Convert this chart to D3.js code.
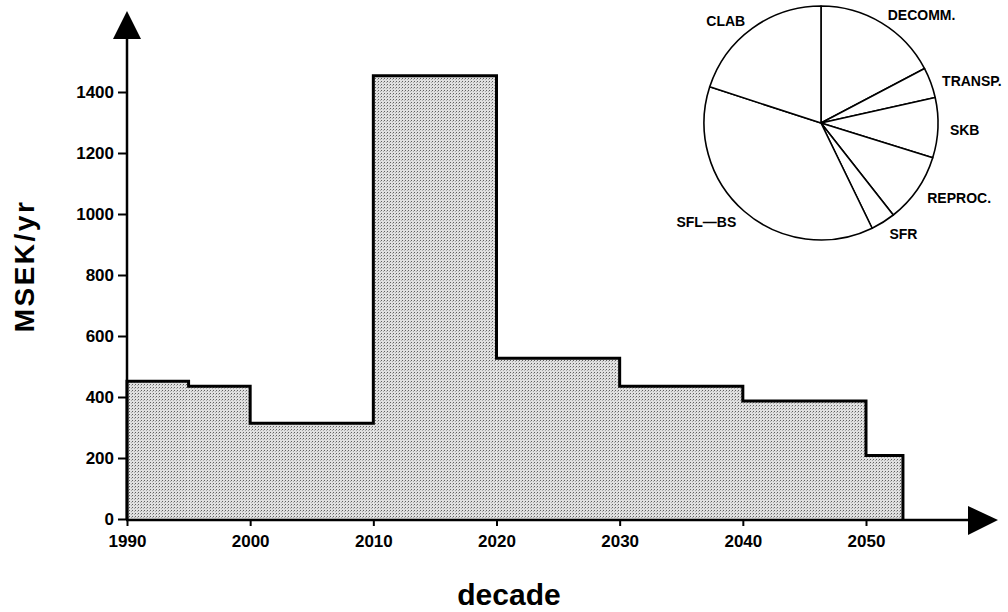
<!DOCTYPE html>
<html>
<head>
<meta charset="utf-8">
<script src="https://cdn.jsdelivr.net/npm/d3@7"></script>
<style>
  body { margin: 0; background: #fff; }
  text { font-family: "Liberation Sans", Arial, sans-serif; font-weight: bold; fill: #000; }
</style>
</head>
<body>
<script>
// cost per period, MSEK/yr
const periodStart = [1990, 1995, 2000, 2010, 2020, 2030, 2040, 2050];
const periodEnd   = [1995, 2000, 2010, 2020, 2030, 2040, 2050, 2053];
const cost        = [452, 435, 314, 1453, 527, 435, 387, 208];

const yTicks = [0, 200, 400, 600, 800, 1000, 1200, 1400];
const xTicks = [1990, 2000, 2010, 2020, 2030, 2040, 2050];

// pie: share of total, clockwise from the top
const pieLabels = ["DECOMM.", "TRANSP.", "SKB", "REPROC.", "SFR", "SFL\u2014BS", "CLAB"];
const pieShares = [17.3, 4.2, 8.3, 9.6, 3.4, 37.2, 20.0];

const width = 1008;
const height = 612;
const svg = d3.select('body').append('svg').attr('width', width).attr('height', height);

const x = d3.scaleLinear().domain([1990, 2050]).range([127, 866]);
const y = d3.scaleLinear().domain([0, 1400]).range([519, 92]);

// stipple fill
const defs = svg.append('defs');
const pat = defs.append('pattern').attr('id', 'stipple')
  .attr('width', 3).attr('height', 3).attr('patternUnits', 'userSpaceOnUse');
pat.append('rect').attr('width', 3).attr('height', 3).attr('fill', '#e0e0e0');
pat.append('rect').attr('width', 1).attr('height', 1).attr('fill', '#5f5f5f');
pat.append('rect').attr('x', 2).attr('y', 1).attr('width', 1).attr('height', 1).attr('fill', '#a8a8a8');

const steps = periodStart.map((s, i) => ({ s, e: periodEnd[i], v: cost[i] }));

// area under the steps
svg.append('g').selectAll('rect').data(steps).enter().append('rect')
  .attr('x', d => x(d.s))
  .attr('y', d => y(d.v))
  .attr('width', d => x(d.e) - x(d.s))
  .attr('height', d => y(0) - y(d.v))
  .attr('fill', 'url(#stipple)');

// outline of the steps
const pts = [[periodStart[0], 0]];
steps.forEach(d => { pts.push([d.s, d.v]); pts.push([d.e, d.v]); });
pts.push([periodEnd[periodEnd.length - 1], 0]);
svg.append('path')
  .attr('d', d3.line().x(d => x(d[0])).y(d => y(d[1]))(pts))
  .attr('fill', 'none').attr('stroke', '#000').attr('stroke-width', 3)
  .attr('stroke-linejoin', 'miter');

// axes
const x0 = x(1990), y0 = y(0);
svg.append('line').attr('x1', x0).attr('y1', y0 + 1).attr('x2', x0).attr('y2', 36)
  .attr('stroke', '#000').attr('stroke-width', 2.5);
svg.append('path').attr('d', `M${x0 - 14},39 L${x0 + 14},39 L${x0},11 Z`).attr('fill', '#000');

svg.append('line').attr('x1', x0 - 1).attr('y1', y0 + 1).attr('x2', 970).attr('y2', y0 + 1)
  .attr('stroke', '#000').attr('stroke-width', 2.5);
svg.append('path').attr('d', `M968,${y0 - 13} L968,${y0 + 16} L998,${y0 + 1} Z`).attr('fill', '#000');

const yAxis = svg.append('g').attr('transform', `translate(${x0},0)`)
  .call(d3.axisLeft(y).tickValues(yTicks).tickSize(9).tickPadding(4).tickFormat(d3.format('d')));
yAxis.select('.domain').remove();
yAxis.selectAll('line').attr('stroke-width', 2);
yAxis.selectAll('text').attr('font-size', 17);

const xAxis = svg.append('g').attr('transform', `translate(0,${y0 + 1})`)
  .call(d3.axisBottom(x).tickValues(xTicks).tickSize(6).tickPadding(9).tickFormat(d3.format('d')));
xAxis.select('.domain').remove();
xAxis.selectAll('line').attr('stroke-width', 2);
xAxis.selectAll('text').attr('font-size', 17);

svg.append('text').attr('transform', 'translate(34,266) rotate(-90)')
  .attr('text-anchor', 'middle').attr('font-size', 28).attr('letter-spacing', 2.5)
  .text('MSEK/yr');
svg.append('text').attr('x', 509).attr('y', 605)
  .attr('text-anchor', 'middle').attr('font-size', 30)
  .text('decade');

// pie inset
const cx = 821, cy = 123, r = 117;
const pieG = svg.append('g').attr('transform', `translate(${cx},${cy})`);
const arcs = d3.pie().sort(null)(pieShares);
const arc = d3.arc().innerRadius(0).outerRadius(r);
pieG.selectAll('path').data(arcs).enter().append('path')
  .attr('d', arc).attr('fill', '#fff').attr('stroke', '#000').attr('stroke-width', 1.6)
  .attr('stroke-linejoin', 'round');

const labelArc = d3.arc().innerRadius(r + 12).outerRadius(r + 12);
pieG.selectAll('text').data(arcs).enter().append('text')
  .attr('transform', d => `translate(${labelArc.centroid(d)})`)
  .attr('dy', '0.5em')
  .attr('text-anchor', d => (d.startAngle + d.endAngle) / 2 < Math.PI ? 'start' : 'end')
  .attr('font-size', 14)
  .text((d, i) => pieLabels[i]);
</script>
</body>
</html>
